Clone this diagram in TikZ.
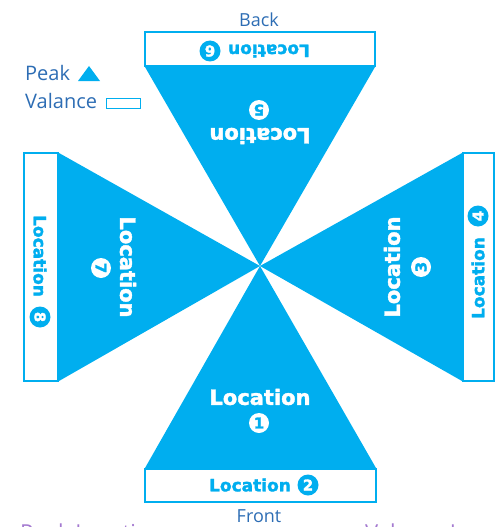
\documentclass[tikz,border=0pt]{standalone}
\usepackage{fontspec}
\setmainfont{Open Sans}
\newfontfamily\heavy{DejaVu Sans}[BoldFeatures={FakeBold=1.8}]
\definecolor{cy}{HTML}{00AEEF}
\definecolor{lab}{HTML}{2D6DB4}
\definecolor{pur}{HTML}{A47AD0}
\tikzset{
  valbox/.style={draw=cy, fill=white, line width=2pt, inner sep=0pt},
  peak/.style={fill=cy},
  bigloc/.style={text=white, font=\heavy\bfseries\fontsize{21}{25}\selectfont, inner sep=0pt},
  smallloc/.style={text=cy, font=\heavy\bfseries\fontsize{17}{20}\selectfont, inner sep=0pt},
  digw/.style={circle, fill=white, text=cy, minimum size=20pt, inner sep=0pt, font=\heavy\bfseries\fontsize{15}{15}\selectfont},
  digc/.style={circle, fill=cy, text=white, minimum size=21pt, inner sep=0pt, font=\heavy\bfseries\fontsize{15}{15}\selectfont},
  side/.style={text=lab, font=\fontsize{18}{20}\selectfont, inner sep=0pt},
  legend/.style={text=lab, font=\fontsize{20}{22}\selectfont, inner sep=0pt, anchor=base west},
  cut/.style={text=pur, font=\fontsize{22}{26}\selectfont, inner sep=0pt, anchor=base west}
}
\begin{document}
\begin{tikzpicture}[x=1pt,y=-1pt]
\useasboundingbox (0,0) rectangle (497,527);
\coordinate (c) at (260,266);
% valance rectangles
\node[valbox, minimum width=230pt, minimum height=34pt] (top) at (260,49) {};
\node[valbox, minimum width=231pt, minimum height=33pt] (bot) at (260.5,485.5) {};
\node[valbox, minimum width=34pt, minimum height=228pt] (lft) at (41,267) {};
\node[valbox, minimum width=31pt, minimum height=228pt] (rgt) at (478.5,267) {};
% peaks
\fill[peak] ([xshift=1pt]top.south west) -- ([xshift=-1pt]top.south east) -- (c) -- cycle;
\fill[peak] ([xshift=1pt]bot.north west) -- ([xshift=-1pt]bot.north east) -- (c) -- cycle;
\fill[peak] ([yshift=-1pt]lft.north east) -- ([yshift=1pt]lft.south east) -- (c) -- cycle;
\fill[peak] ([yshift=-1pt]rgt.north west) -- ([yshift=1pt]rgt.south west) -- (c) -- cycle;
% peak labels
\node[bigloc] (l1) at (260,397) {Location};
\node[digw] (d1) at (259,423) {1};
\node[bigloc, rotate=90] (l3) at (392,267) {Location};
\node[digw, rotate=90] (d3) at (421,267) {3};
\node[bigloc, rotate=180] (l5) at (260,136) {Location};
\node[digw, rotate=180] (d5) at (259,110) {5};
\node[bigloc, rotate=-90] (l7) at (128,267) {Location};
\node[digw, rotate=-90] (d7) at (101,268) {7};
% valance labels
\node[smallloc] (l2) at (250,485) {Location};
\node[digc] (d2) at (308,485) {2};
\node[smallloc, rotate=90] (l4) at (478,278) {Location};
\node[digc, rotate=90] (d4) at (478,216) {4};
\node[smallloc, rotate=180] (l6) at (269,51) {Location};
\node[digc, rotate=180] (d6) at (210,51) {6};
\node[smallloc, rotate=-90] (l8) at (40,256) {Location};
\node[digc, rotate=-90] (d8) at (40,317) {8};
% side labels
\node[side] (back) at (259,20) {Back};
\node[side] (front) at (259,516) {Front};
% legend
\node[legend] (lp) at (25,80) {Peak};
\node[legend] (lv) at (25,108) {Valance};
\coordinate (tp) at (89,66);
\fill[peak] (78,81) -- (100,81) -- (tp) -- cycle;
\node[draw=cy, line width=1.5pt, minimum width=34pt, minimum height=10pt, inner sep=0pt] (vr) at (123.5,103.5) {};
% cut-off footer text (cut in the reference too)
\node[cut] (fp) at (20,540) {Peak Locations};
\node[cut] (fv) at (365,540) {Valance Locations};
\end{tikzpicture}
\end{document}
